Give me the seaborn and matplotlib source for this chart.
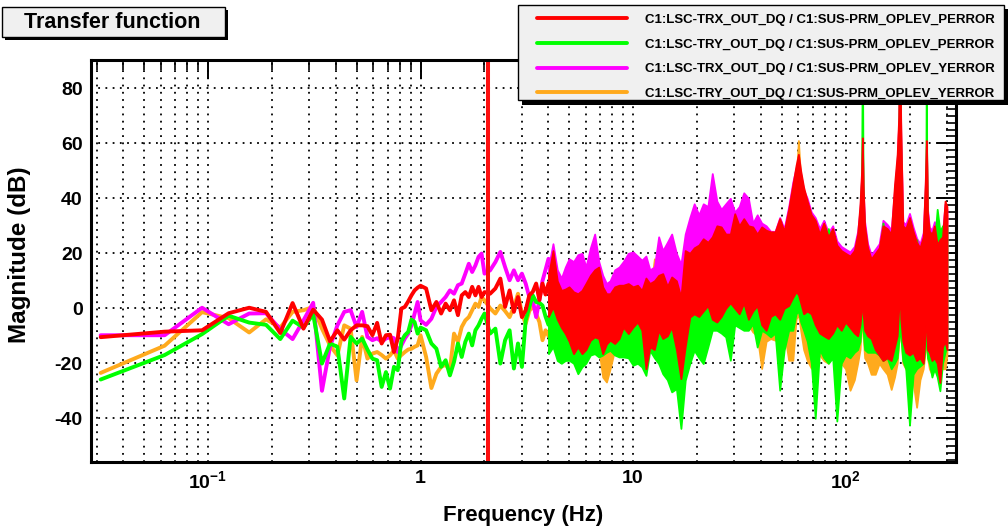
import numpy as np
import pandas as pd
import matplotlib
matplotlib.use("Agg")
import matplotlib.pyplot as plt
from matplotlib.patches import Rectangle
from matplotlib.ticker import LogLocator, MultipleLocator, NullFormatter
import seaborn as sns

# ------------------------------------------------------------------ data
labels = [
    "C1:LSC-TRX_OUT_DQ / C1:SUS-PRM_OPLEV_PERROR",
    "C1:LSC-TRY_OUT_DQ / C1:SUS-PRM_OPLEV_PERROR",
    "C1:LSC-TRX_OUT_DQ / C1:SUS-PRM_OPLEV_YERROR",
    "C1:LSC-TRY_OUT_DQ / C1:SUS-PRM_OPLEV_YERROR",
]
cursor_freq = 2.08

# low-frequency part (single trace per series), Hz
freq_line = [0.03125, 0.0625, 0.09375, 0.125, 0.15625, 0.1875, 0.21875, 0.25,
             0.28125, 0.3125, 0.34375, 0.375, 0.40625, 0.4375, 0.46875, 0.5,
             0.53125, 0.5625, 0.59375, 0.625, 0.65625, 0.6875, 0.71875, 0.75,
             0.78125, 0.8125, 0.84375, 0.875, 0.90625, 0.9375, 0.96875, 1.0,
             1.0625, 1.125, 1.1875, 1.25, 1.3125, 1.375, 1.4375, 1.5,
             1.5625, 1.625, 1.6875, 1.75, 1.8125, 1.875, 1.9375, 2.0,
             2.125, 2.25, 2.375, 2.5, 2.625, 2.75, 2.875, 3.0,
             3.125, 3.25, 3.375, 3.5, 3.625, 3.75, 3.875, 4.0]
red_line = [-10.5, -8.5, -8.0, -1.8, 0.2, -1.3, -9.0, 1.9, -7.4, -0.5, -4.1, -12.0,
            -8.0, -11.4, -8.0, -6.2, -6.2, -6.5, -9.8, -5.3, -12.8, -9.8, -9.6, -15.9,
            -11.0, -0.1, 0.5, 2.5, 4.7, 6.5, 7.5, 8.2,
            7.2, -0.7, 2.3, -1.9, 1.7, -0.7, 2.9, -2.5, 4.7, 5.9, 4.1, 7.8, 4.7, 7.8, 4.1, 5.9,
            5.3, 7.2, 10.8, 0.5, 6.5, -1.3, 4.1, -3.2, -0.7, 4.7, 6.0, 9.0, 3.0, 9.0, 5.0, 9.0]
green_line = [-25.9, -17.0, -9.4, -2.7, -5.2, -6.0, -11.2, -4.5, -7.0, -2.2, -20.1, -12.8,
              -14.0, -32.8, -10.4, -12.8, -11.0, -15.0, -18.3, -18.9, -28.6, -23.2, -29.2, -21.3,
              -22.5, -12.0, -9.8, -8.6, -4.1, -5.0, -9.2, -7.0,
              -8.0, -12.8, -14.7, -21.3, -18.9, -24.4, -19.5, -12.8, -17.7, -12.2, -9.2, -13.5,
              -8.0, -6.2, -3.8, -1.9,
              -9.2, -7.4, -20.1, -11.6, -8.0, -21.9, -12.8, -21.3, -4.4, 0.5, 4.7, 2.3,
              2.0, 1.0, -3.0, -6.0]
magenta_line = [-9.8, -9.8, 0.2, -5.8, -1.9, -1.8, -7.6, -11.2, -4.4, 2.0, -30.0, -14.0,
                -6.2, -1.3, -0.7, -6.8, -1.3, -10.4, -11.6, -10.9, -12.2, -11.0, -10.4, -10.9,
                -15.9, -13.5, -11.0, -9.2, -6.2, -2.0, 2.3, -4.4,
                -6.0, -3.8, 0.5, 2.3, 4.1, 6.5, 5.3, 8.4, 9.0, 12.6, 16.2, 13.2, 15.6, 18.7, 19.9, 12.6,
                13.8, 16.8, 20.5, 15.0, 10.2, 13.8, 10.2, 12.6, 9.0, 4.1, 2.9, -3.2,
                3.0, 10.0, 14.0, 18.0]
orange_line = [-23.5, -13.6, -1.4, -3.6, -8.8, -4.0, -7.0, -1.3, -0.7, 0.5, -7.4, -13.5,
               -17.1, -6.2, -7.4, -26.2, -10.4, -18.3, -16.5, -15.9, -17.0, -18.3, -17.1, -15.3,
               -18.3, -17.0, -15.9, -15.0, -14.7, -14.0, -13.5, -9.8,
               -17.7, -29.0, -23.8, -21.3, -20.5, -22.5, -9.2, -12.2, -6.8, -4.4, -3.2, -0.7,
               1.7, 0.5, 4.1, 2.9,
               0.0, -1.9, 1.0, -1.0, -3.2, 0.5, 5.3, -2.0, -5.6, -1.0, 1.0, -2.0,
               -5.0, -11.6, -8.0, -10.0]

# high-frequency part (dense spectrum, upper / lower envelope per series), Hz
freq_band = [4.0, 4.2, 4.4, 4.6, 4.8, 5.0, 5.25, 5.5, 5.75, 6.0, 6.3, 6.6, 6.9, 7.2, 7.5,
             7.8, 8.2, 8.6, 9.0, 9.5, 10.0,
             10.5, 11.0, 11.5, 12.0, 12.6, 13.2, 13.8, 14.5, 15.2, 16.0,
             16.8, 17.6, 18.5, 19.4, 20.4, 21.4, 22.5, 23.6, 24.8, 26.0,
             27.3, 28.7, 30.1, 31.6, 33.2, 34.9, 36.6, 38.4, 40.3, 42.3,
             44.4, 46.6, 49.0, 51.4, 54.0, 56.5, 58.5,
             60, 61.5, 63.5, 66, 69, 72, 75.5, 79, 83, 87,
             91, 95.5, 100, 105, 110, 114, 117, 119, 120, 121,
             123, 127, 132, 138, 144, 150, 157, 164, 170, 175,
             178, 180, 182, 186, 192, 200, 208, 216, 224, 232,
             237, 239, 240, 241, 243, 248, 255, 262, 270, 278,
             286, 294, 300]
red_hi = [12, 21, 10, 6.5, 7, 7.8, 6, 5.3, 6.5, 9, 12, 14, 15, 7.8, 5.3, 5.3, 7.8, 8.4, 8.4, 9, 7.8,
          8.4, 6.5, 11, 9, 10, 12, 12.6, 8, 11.4, 10,
          4, 21, 20, 22, 23, 25.3, 24, 26, 30, 29.6,
          27, 27, 34.4, 30, 32.6, 30, 29.6, 27, 29.6, 28.4,
          27.8, 27.8, 32.6, 28, 36, 45, 52,
          56, 50, 44, 39, 34, 32, 27, 31, 26, 29,
          23, 21, 20, 19, 21, 27, 38, 50, 62, 45,
          30, 22, 18, 20, 22, 30, 29, 27, 45, 56,
          70, 95, 65, 30, 29, 33, 28, 24, 22, 26,
          45, 55, 61, 55, 35, 28, 27, 30, 23, 25,
          26, 39, 37]
red_lo = [-3, 0.5, -4, -7, -9.2, -12, -16.5, -14, -16.5, -15, -11.6, -10.4, -11, -16.5, -13,
          -11.6, -12.8, -11, -6.8, -9.2, -6.8,
          -5, -8, -22, -14, -15, -8, -11, -10, -6.8, -15,
          -25.6, -14, -3.2, -2, -3, -1, 1, -4, -5, -3,
          0, 2, 0, -2, 2, -4, -1, 1, -6, -8,
          -3, -2, -4, 0, 1, 4, 6,
          5, 2, -2, -1, -2, -6, -9, -10, -11, -9,
          -6, -8, -5, -7, -9, -10, -6, 0, 10, -2,
          -8, -10, -11, -15, -17, -19, -18, -19, -14, -10,
          0, 10, -4, -12, -16, -17, -16, -19, -18, -20,
          -10, 0, 10, -2, -15, -16, -19, -18, -20, -27,
          -14, -12, -15]
magenta_hi = [15, 23.5, 14, 11, 15, 18, 17, 19.5, 20, 15, 22, 27, 17, 12, 9, 10, 14, 15, 17, 20, 20.5,
              19, 17.5, 19, 14, 15, 26, 21, 24, 27, 20,
              16, 27, 33, 38, 34, 38, 37, 49, 39, 36,
              38, 40, 35, 37, 42, 40, 31, 34, 31, 30,
              28, 28, 33, 29, 37, 46, 51,
              54, 49, 43, 40, 35, 33, 29, 32, 27.5, 30,
              24.5, 22.5, 21.5, 20.5, 22.5, 28, 36, 48, 60, 43,
              31.5, 23.5, 19.5, 21.5, 23.5, 32, 30.5, 28.5, 43, 54,
              68, 90, 63, 31.5, 30.5, 34.5, 29.5, 25.5, 23.5, 27.5,
              43, 53, 59, 53, 36, 29.5, 28.5, 31.5, 24.5, 26.5,
              27.5, 38, 36]
magenta_lo = [1, 4.5, 0, -3, -5, -8, -12.5, -10, -12.5, -11, -7.6, -6.4, -7, -12.5, -9,
              -7.6, -8.8, -7, -2.8, -5.2, -2.8,
              -2, -5, -19, -11, -12, -5, -8, -7, -4, -12,
              -22, -11, 0, 1, 0, 2, 4, -1, -2, 0,
              3, -9, 3, 1, 5, -1, 2, 4, -3, -5,
              0, 1, -1, 3, 4, 7, 9,
              8, 5, 1, 2, 1, -3, -6, -7, -8, -6,
              -3, -5, -2, -4, -6, -7, -3, 3, 13, 1,
              -5, -7, -8, -12, -14, -16, -15, -16, -11, -7,
              3, 13, -1, -9, -13, -14, -13, -16, -15, -17,
              -7, 3, 13, 1, -12, -13, -16, -15, -17, -24,
              -11, -9, -12]
green_hi = [2, 0, -2, 0, -4, -6, -5, -5, -3, -6, -4, -4, -3, -8, -5, -4, -4, -2, 0, -2, 0,
            0, -2, 0, 0, 0, 2, 4, 0, 2, 0,
            -4, 10, 10, 12, 14, 15, 14, 16, 18, 18,
            16, 16, 22, 18, 20, 18, 18, 16, 18, 16,
            16, 16, 20, 16, 22, 28, 36,
            40, 38, 34, 30, 26, 24, 20, 22, 29, 22,
            16, 14, 14, 13, 15, 20, 30, 48, 95, 43,
            22, 15, 12, 14, 16, 31, 22, 20, 40, 48,
            62, 90, 55, 22, 22, 25, 21, 25, 16, 20,
            40, 53, 95, 53, 28, 22, 21, 24, 36, 28,
            30, 30, 30]
green_lo = [-16.5, -14, -19, -20, -19, -18.9, -20, -23.8, -21.3, -20, -17, -16.5, -17.7, -17, -16,
            -15.3, -17, -17.7, -17.7, -18, -20.7,
            -20, -21.3, -24.4, -15.3, -18, -20.1, -23.8, -26, -30.4, -29.2,
            -43.7, -26.2, -20.1, -15.3, -18, -20.1, -14, -8, -8, -9,
            -10.4, -18.9, -6, -7, -8, -8, -5.6, -14.1, -8, -9,
            -10.4, -9, -29.8, -15.3, -8, -8, -2,
            -1, -5, -8, -12, -20, -40, -15, -18, -20, -18,
            -41, -20, -17, -18, -16, -15, -12, -5, 0, -8,
            -15, -16, -16, -16, -17, -19, -18, -22, -20, -18,
            -12, -5, -10, -19, -22, -42.5, -24, -22, -21, -20,
            -15, -8, 0, -8, -18, -20, -25, -22, -25, -30,
            -20, -16, -14]
orange_hi = [6, 12, 5, 2, 3, 3, 2, 1, 2, 5, 8, 10, 11, 4, 1, 1, 4, 4, 4, 5, 4,
             4, 2, 7, 5, 18, 8, 8, 4, 7, 6,
             0, 17, 16, 18, 19, 21, 20, 22, 26, 25,
             23, 23, 30, 26, 28, 26, 25, 23, 25, 24,
             24, 24, 28, 24, 32, 40, 46,
             61, 47, 41, 36, 31, 29, 24, 28, 23, 26,
             20, 18, 17, 16, 18, 24, 35, 47, 59, 42,
             27, 19, 15, 17, 19, 27, 26, 24, 42, 53,
             67, 92, 62, 27, 26, 30, 25, 21, 19, 23,
             42, 52, 58, 52, 32, 25, 24, 27, 20, 22,
             23, 36, 34]
orange_lo = [-11, -12, -17, -18, -17, -17, -18, -21, -19, -18, -15, -14.5, -15, -25, -26.8,
             -22, -15, -15.5, -15.5, -16, -18,
             -18, -19, -22, -13, -16, -18, -21, -23, -27, -26,
             -38, -23, -18, -13, -16, -18, -12, -6, -6.2, -7,
             -9, -16, -4, -5, -6, -6, -8.6, -10, -21.9, -12,
             -11, -11.6, -9, -8, -18.9, -18.9, -4,
             -2, -8, -15, -19, -21.8, -15, -17, -19, -20, -17,
             -18, -20, -22, -29.8, -26, -20, -15, -5, 0, -10,
             -18, -20, -24, -24, -20, -22, -24, -29.5, -25, -20,
             -12, -5, -10, -20, -22, -25, -27, -36, -26, -22,
             -16, -8, 0, -8, -18, -22, -24, -22, -20, -18,
             -22, -22, -17]

colors = {"red": "#ff0000", "green": "#00ff00", "magenta": "#ff00ff", "orange": "#ffaa1d"}

# ------------------------------------------------------------------ style
sns.set_theme(style="white")
plt.rcParams["font.family"] = ["Liberation Sans", "DejaVu Sans"]
plt.rcParams["font.weight"] = "bold"
plt.rcParams["axes.unicode_minus"] = False
plt.rcParams["mathtext.fontset"] = "custom"
plt.rcParams["mathtext.rm"] = "Liberation Sans:bold"
plt.rcParams["mathtext.it"] = "Liberation Sans:bold"
plt.rcParams["mathtext.bf"] = "Liberation Sans:bold"
plt.rcParams["mathtext.sf"] = "Liberation Sans:bold"

W, H = 1008, 530
fig = plt.figure(figsize=(W / 100, H / 100), dpi=100)
fig.patch.set_facecolor("white")
ax = fig.add_axes([91 / W, 1 - 462 / H, (956 - 91) / W, (462 - 60) / H])
ax.set_facecolor("white")

series = {
    "red": (labels[0], red_line, red_lo, red_hi),
    "green": (labels[1], green_line, green_lo, green_hi),
    "magenta": (labels[2], magenta_line, magenta_lo, magenta_hi),
    "orange": (labels[3], orange_line, orange_lo, orange_hi),
}
handles = {}
for z, key in enumerate(["orange", "magenta", "green", "red"]):
    lab, yl, lo, hi = series[key]
    c = colors[key]
    ax.fill_between(freq_band, lo, hi, facecolor=c, edgecolor=c, linewidth=1.3, zorder=3 + z)
    df = pd.DataFrame({"freq": freq_line, "mag": yl})
    sns.lineplot(data=df, x="freq", y="mag", ax=ax, color=c, linewidth=2.8,
                 estimator=None, sort=False, legend=False, zorder=3 + z)
    handles[key] = ax.lines[-1]

ax.axvline(cursor_freq, color="#ff1010", linewidth=2.9, zorder=20)

ax.set_xscale("log")
ax.set_xlim(0.02814, 331)
ax.set_ylim(-55.9, 90.3)
ax.set_xticks([0.1, 1, 10, 100], labels=["$10^{-1}$", "1", "10", "$10^{2}$"])
ax.xaxis.set_minor_locator(LogLocator(base=10, subs=np.arange(2, 10), numticks=100))
ax.xaxis.set_minor_formatter(NullFormatter())
ax.yaxis.set_major_locator(MultipleLocator(20))
ax.yaxis.set_minor_locator(MultipleLocator(2.5))

ax.grid(which="major", axis="both", linestyle=(0, (1, 3)), color="black", linewidth=1.3)
ax.grid(which="minor", axis="x", linestyle=(0, (1, 3)), color="black", linewidth=1.3)
ax.set_axisbelow(True)

ax.tick_params(which="both", direction="in", top=True, right=True, color="black",
               labelsize=14, labelcolor="black")
ax.tick_params(which="major", length=14, width=1.4, pad=6)
ax.tick_params(which="minor", length=7, width=1.2)
for lab in ax.get_xticklabels() + ax.get_yticklabels():
    lab.set_fontweight("bold")
for sp in ax.spines.values():
    sp.set_linewidth(2.2)
    sp.set_color("black")
    sp.set_zorder(30)

ax.set_xlabel("Frequency (Hz)", fontsize=16, fontweight="bold", color="black")
ax.xaxis.set_label_coords(0.5, -0.107)
ax.set_ylabel("Magnitude (dB)", fontsize=17.5, fontweight="bold", color="black")
ax.yaxis.set_label_coords(-0.069, 0.515)

# title box
fig.add_artist(Rectangle((5 / W, 1 - 40 / H), 223 / W, 30 / H, transform=fig.transFigure,
                         facecolor="black", edgecolor="none", zorder=1))
fig.add_artist(Rectangle((2 / W, 1 - 37 / H), 223 / W, 30 / H, transform=fig.transFigure,
                         facecolor="#f0f0f0", edgecolor="black", linewidth=1.0, zorder=2))
fig.text(112 / W, 1 - 22.5 / H, "Transfer function", ha="center", va="center",
         fontsize=15.5, fontweight="bold", color="black", zorder=3)

# legend box
fig.add_artist(Rectangle((522 / W, 1 - 105 / H), 486 / W, 96 / H, transform=fig.transFigure,
                         facecolor="black", edgecolor="none", zorder=1))
fig.add_artist(Rectangle((518 / W, 1 - 100 / H), 486 / W, 95 / H, transform=fig.transFigure,
                         facecolor="#f0f0f0", edgecolor="black", linewidth=1.0, zorder=2))
order = ["red", "green", "magenta", "orange"]
leg = fig.legend([handles[k] for k in order], [series[k][0] for k in order],
                 loc="center left", bbox_to_anchor=(537 / W, 1 - 56.8 / H),
                 frameon=False, prop={"weight": "bold", "size": 9.5},
                 handlelength=6.8, handletextpad=1.36, labelspacing=0.95,
                 borderpad=0, borderaxespad=0)
leg.set_zorder(5)
for t in leg.get_texts():
    t.set_color("black")

fig.savefig("out.png", dpi=100, facecolor="white")
